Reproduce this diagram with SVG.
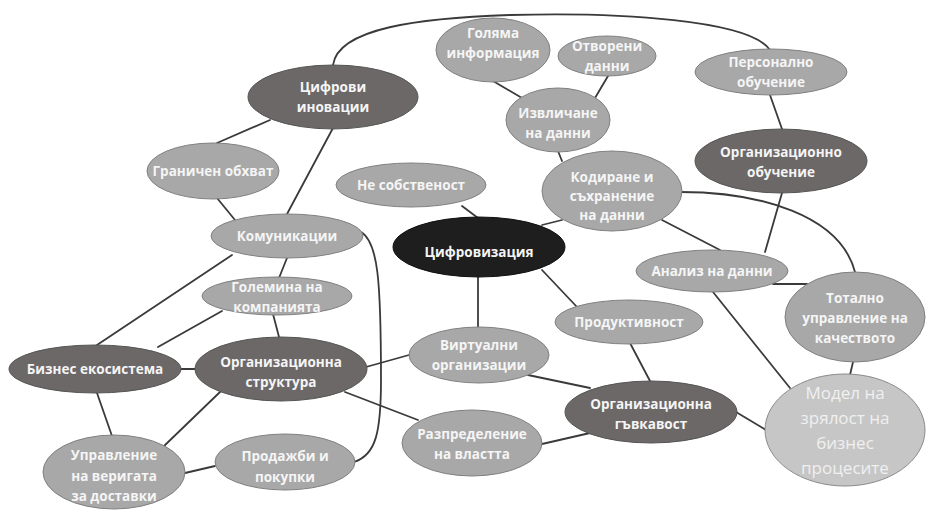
<svg xmlns="http://www.w3.org/2000/svg" width="933" height="510" viewBox="0 0 933 510">
<style>
.c{fill:none;stroke:#3a3a3a;stroke-width:1.8;stroke-linecap:round}
.l ellipse{fill:#a8a8a8;stroke:#808080;stroke-width:1}
.d ellipse{fill:#6d6868;stroke:#555;stroke-width:1}
.k ellipse{fill:#1e1e1e;stroke:#111;stroke-width:1}
.p ellipse{fill:#c6c6c6;stroke:#8a8a8a;stroke-width:1}
text{font-family:"Open Sans","Noto Sans","DejaVu Sans",sans-serif;font-weight:bold;font-size:13.5px;fill:#f5f5f5;text-anchor:middle}
.p text{font-weight:normal;font-size:17px;fill:#f0f0f0}
</style>
<rect width="933" height="510" fill="#ffffff"/>
<g id="connectors">
<path class="c" d="M333,65 C338,28 420,18 510,15 C620,12 750,20 770,50"/>
<path class="c" d="M270,120 L217,143"/>
<path class="c" d="M333,128 L287,214"/>
<path class="c" d="M217,198 L235,220"/>
<path class="c" d="M462,206 L478,218"/>
<path class="c" d="M232,255 L97,345"/>
<path class="c" d="M287,258 L279,278"/>
<path class="c" d="M361,232 C378,242 381,280 381,380 C381,432 376,455 354,462"/>
<path class="c" d="M222,311 L158,347"/>
<path class="c" d="M273,314 L279,337"/>
<path class="c" d="M181,369 L195,369"/>
<path class="c" d="M97,393 L112,436"/>
<path class="c" d="M220,392 L163,447"/>
<path class="c" d="M185,473 L215,466"/>
<path class="c" d="M366,367 L409,355"/>
<path class="c" d="M345,392 L418,420"/>
<path class="c" d="M478,277 L478,327"/>
<path class="c" d="M542,270 L577,307"/>
<path class="c" d="M542,225 L562,220"/>
<path class="c" d="M562,161 L558,151"/>
<path class="c" d="M522,98 L493,81"/>
<path class="c" d="M595,98 L608,76"/>
<path class="c" d="M770,95 L782,129"/>
<path class="c" d="M782,193 L765,252"/>
<path class="c" d="M662,220 L720,250"/>
<path class="c" d="M680,192 C760,192 840,215 855,272"/>
<path class="c" d="M773,284 L807,284"/>
<path class="c" d="M713,292 L790,388"/>
<path class="c" d="M853,362 L850,375"/>
<path class="c" d="M630,343 L650,381"/>
<path class="c" d="M528,375 L590,388"/>
<path class="c" d="M542,444 L590,433"/>
<path class="c" d="M736,412 L766,430"/>
</g>
<g id="n1" class="d"><ellipse cx="333" cy="97" rx="85" ry="32"/><text x="333" y="92">Цифрови</text><text x="333" y="112">иновации</text></g>
<g id="n2" class="l"><ellipse cx="213" cy="171" rx="66" ry="28"/><text x="213" y="176">Граничен обхват</text></g>
<g id="n3" class="l"><ellipse cx="411" cy="185" rx="75" ry="22"/><text x="411" y="190">Не собственост</text></g>
<g id="n4" class="l"><ellipse cx="287" cy="236" rx="76" ry="22"/><text x="287" y="241">Комуникации</text></g>
<g id="n5" class="k"><ellipse cx="479" cy="247" rx="86" ry="30"/><text x="479" y="257">Цифровизация</text></g>
<g id="n6" class="l"><ellipse cx="493" cy="50" rx="57" ry="32"/><text x="493" y="38">Голяма</text><text x="493" y="58">информация</text></g>
<g id="n7" class="l"><ellipse cx="607" cy="56" rx="49" ry="20"/><text x="607" y="51">Отворени</text><text x="607" y="71">данни</text></g>
<g id="n8" class="l"><ellipse cx="558" cy="120" rx="52" ry="32"/><text x="558" y="118">Извличане</text><text x="558" y="138">на данни</text></g>
<g id="n9" class="l"><ellipse cx="771" cy="72" rx="76" ry="23"/><text x="771" y="67">Персонално</text><text x="771" y="87">обучение</text></g>
<g id="n10" class="d"><ellipse cx="781" cy="161" rx="86" ry="32"/><text x="781" y="157">Организационно</text><text x="781" y="177">обучение</text></g>
<g id="n11" class="l"><ellipse cx="612" cy="191" rx="70" ry="40"/><text x="612" y="182">Кодиране и</text><text x="612" y="201">съхранение</text><text x="612" y="220">на данни</text></g>
<g id="n12" class="l"><ellipse cx="712" cy="271" rx="76" ry="21"/><text x="712" y="276">Анализ на данни</text></g>
<g id="n13" class="l"><ellipse cx="855" cy="317" rx="70" ry="45"/><text x="855" y="303">Тотално</text><text x="855" y="323">управление на</text><text x="855" y="343">качеството</text></g>
<g id="n14" class="l"><ellipse cx="629" cy="322" rx="74" ry="22"/><text x="629" y="327">Продуктивност</text></g>
<g id="n15" class="l"><ellipse cx="479" cy="355" rx="70" ry="28"/><text x="479" y="350">Виртуални</text><text x="479" y="370">организации</text></g>
<g id="n16" class="d"><ellipse cx="651" cy="412" rx="86" ry="31"/><text x="651" y="409">Организационна</text><text x="651" y="429">гъвкавост</text></g>
<g id="n17" class="p"><ellipse cx="845" cy="430" rx="80" ry="56"/><text x="845" y="399">Модел на</text><text x="845" y="424">зрялост на</text><text x="845" y="449">бизнес</text><text x="845" y="474">процесите</text></g>
<g id="n18" class="l"><ellipse cx="472" cy="443" rx="70" ry="33"/><text x="472" y="439">Разпределение</text><text x="472" y="459">на властта</text></g>
<g id="n19" class="d"><ellipse cx="281" cy="369" rx="86" ry="32"/><text x="281" y="367">Организационна</text><text x="281" y="387">структура</text></g>
<g id="n20" class="d"><ellipse cx="95" cy="369" rx="86" ry="24"/><text x="95" y="374">Бизнес екосистема</text></g>
<g id="n21" class="l"><ellipse cx="277" cy="296" rx="75" ry="19"/><text x="277" y="292">Големина на</text><text x="277" y="312">компанията</text></g>
<g id="n22" class="l"><ellipse cx="114" cy="472" rx="71" ry="37"/><text x="114" y="460">Управление</text><text x="114" y="481">на веригата</text><text x="114" y="501">за доставки</text></g>
<g id="n23" class="l"><ellipse cx="285" cy="462" rx="70" ry="28"/><text x="285" y="461">Продажби  и</text><text x="285" y="482">покупки</text></g>
</svg>
